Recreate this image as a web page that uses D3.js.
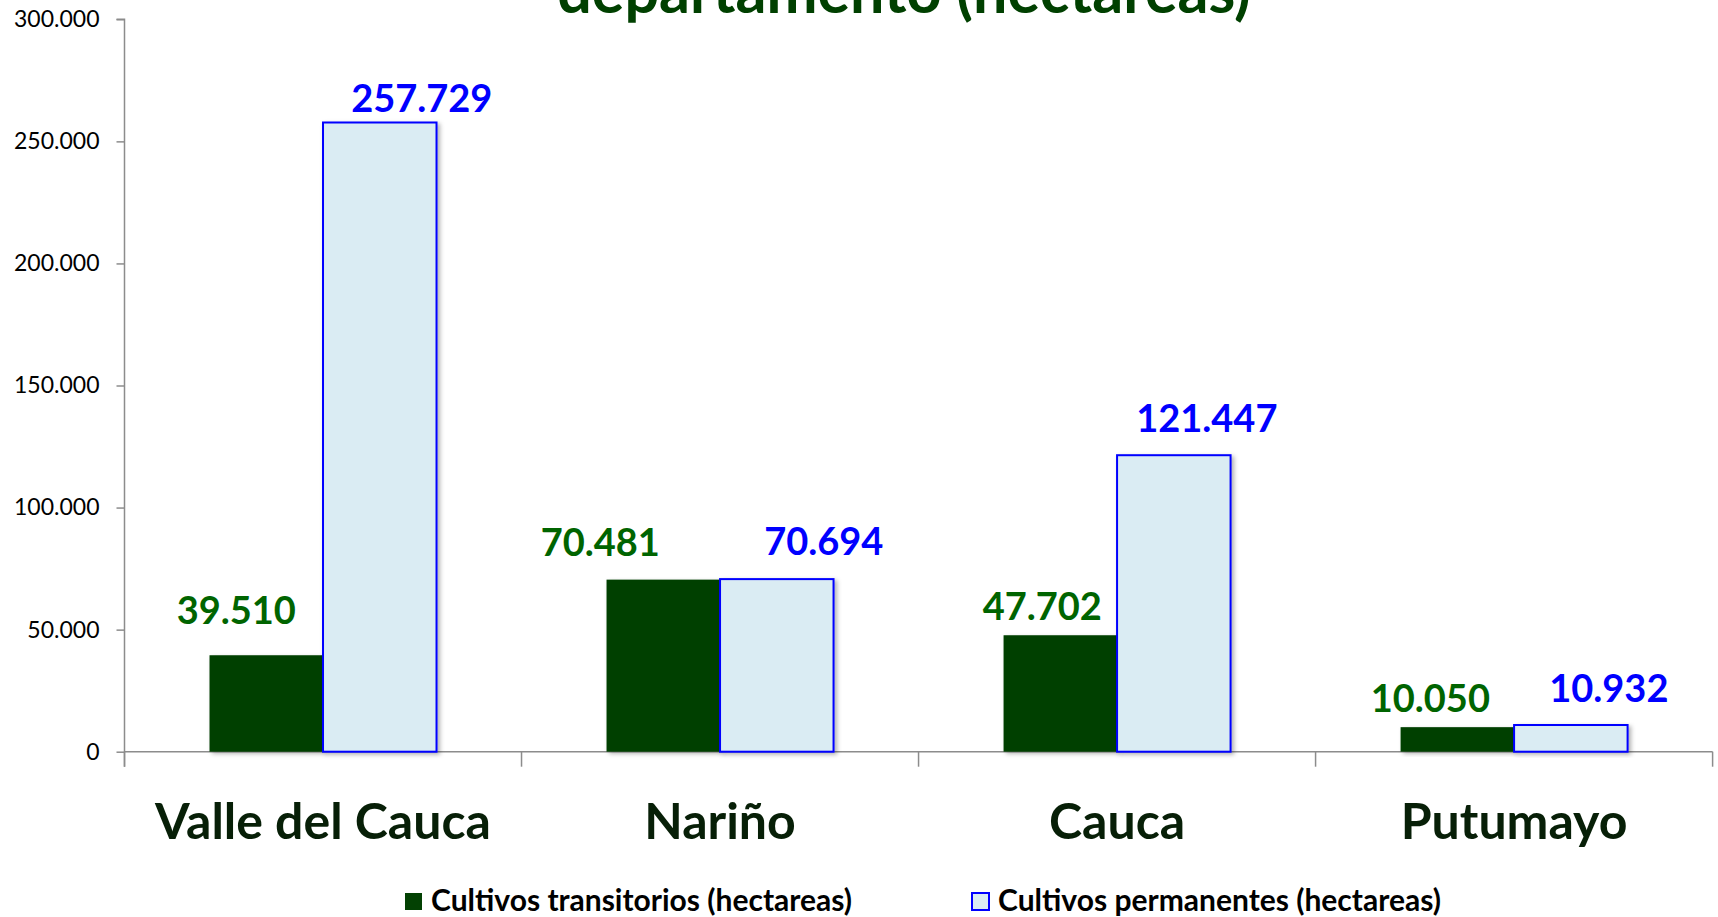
<!DOCTYPE html>
<html>
<head>
<meta charset="utf-8">
<script src="https://cdn.jsdelivr.net/npm/d3@7/dist/d3.min.js"></script>
<style>
  html, body { margin: 0; padding: 0; background: #ffffff; overflow: hidden; }
  svg { display: block; font-family: Lato, "Open Sans", "DejaVu Sans", sans-serif; }
</style>
</head>
<body>
<svg id="chart" width="1718" height="917"></svg>
<script>
// ---- data ----
const categories = ["Valle del Cauca", "Nariño", "Cauca", "Putumayo"];
const transitorios = [39510, 70481, 47702, 10050];
const permanentes = [257729, 70694, 121447, 10932];
const seriesNames = ["Cultivos transitorios (hectareas)", "Cultivos permanentes (hectareas)"];
const yTickValues = [0, 50000, 100000, 150000, 200000, 250000, 300000];
const titleText = "departamento (hectareas)";

// manual label placement (as in the original), relative to bar top-center
const labelDx = [[-30, -63, -18, -27], [42, 47, 33, 38]];
const labelDy = [[-31, -24, -15, -15], [-10, -24, -23, -23]];

// ---- styles ----
const greenFill = "#034103";
const blueFill = "#DAECF3";
const blueStroke = "#0000FF";
const greenLabel = "#006400";
const blueLabel = "#0000FF";
const axisColor = "#8c8c8c";

const svg = d3.select("#chart");
const loc = d3.formatLocale({ decimal: ",", thousands: ".", grouping: [3], currency: ["$", ""] });
const fmt = loc.format(",d");

const defs = svg.append("defs");
const f = defs.append("filter").attr("id", "shadow").attr("x", "-10%").attr("y", "-10%").attr("width", "130%").attr("height", "130%");
f.append("feDropShadow").attr("dx", 2.5).attr("dy", 2).attr("stdDeviation", 2).attr("flood-color", "#000").attr("flood-opacity", 0.3);

const plotLeft = 124.5, plotRight = 1712.6, plotTop = 19.3, plotBottom = 751.7;

const y = d3.scaleLinear().domain([0, 300000]).range([plotBottom, plotTop]);
const x = d3.scaleBand().domain(categories).range([plotLeft, plotRight]).padding(0);
const xi = d3.scaleBand().domain([0, 1]).range([0, x.bandwidth()]).paddingInner(0).paddingOuter(0.749);

const series = [transitorios, permanentes];

// title (top line is cut off in the original)
svg.append("text")
  .attr("x", 904).attr("y", 13)
  .attr("text-anchor", "middle")
  .attr("font-weight", "bold").attr("font-size", 61)
  .attr("fill", "#004000")
  .text(titleText);

// y axis
const yAxis = d3.axisLeft(y).tickValues(yTickValues).tickFormat(fmt).tickSize(8).tickSizeOuter(8).tickPadding(17);
const gy = svg.append("g").attr("transform", `translate(${plotLeft},0)`).call(yAxis);
gy.selectAll("path, line").attr("stroke", axisColor).attr("stroke-width", 1.5);
gy.select(".domain").attr("d", `M-8,${plotTop}H0V${plotBottom + 15}`);
gy.selectAll("text").attr("font-size", 23).attr("fill", "#000").attr("font-family", "Lato, sans-serif");

// x axis line + boundary ticks
const gx = svg.append("g");
gx.append("line").attr("x1", plotLeft).attr("x2", plotRight).attr("y1", plotBottom).attr("y2", plotBottom)
  .attr("stroke", axisColor).attr("stroke-width", 1.5);
const boundaries = categories.map(c => x(c)).concat([x(categories[categories.length - 1]) + x.bandwidth()]);
gx.selectAll("line.tk").data(boundaries).join("line").attr("class", "tk")
  .attr("x1", d => d).attr("x2", d => d).attr("y1", plotBottom).attr("y2", plotBottom + 15)
  .attr("stroke", axisColor).attr("stroke-width", 1.5);

// category labels
svg.append("g").selectAll("text").data(categories).join("text")
  .attr("x", d => x(d) + x.bandwidth() / 2).attr("y", 839)
  .attr("text-anchor", "middle").attr("font-weight", "bold").attr("font-size", 50)
  .attr("fill", "#071f07").text(d => d);

// bars
series.forEach((vals, si) => {
  const g = svg.append("g");
  g.selectAll("rect").data(vals).join("rect")
    .attr("x", (d, i) => x(categories[i]) + xi(si))
    .attr("y", d => y(d))
    .attr("width", xi.bandwidth())
    .attr("height", d => y(0) - y(d))
    .attr("fill", si === 0 ? greenFill : blueFill)
    .attr("stroke", si === 0 ? "none" : blueStroke)
    .attr("stroke-width", si === 0 ? 0 : 2)
    .attr("filter", "url(#shadow)");
});

// value labels
series.forEach((vals, si) => {
  svg.append("g").selectAll("text").data(vals).join("text")
    .attr("x", (d, i) => x(categories[i]) + xi(si) + xi.bandwidth() / 2 + labelDx[si][i])
    .attr("y", (d, i) => y(d) + labelDy[si][i])
    .attr("text-anchor", "middle").attr("font-weight", "bold").attr("font-size", 38)
    .attr("fill", si === 0 ? greenLabel : blueLabel)
    .text(d => fmt(d));
});

// legend
const legendX = [405, 972];
const lg = svg.append("g");
seriesNames.forEach((name, si) => {
  lg.append("rect").attr("x", legendX[si]).attr("y", 893).attr("width", 17).attr("height", 17)
    .attr("fill", si === 0 ? greenFill : blueFill)
    .attr("stroke", si === 0 ? "none" : blueStroke).attr("stroke-width", 2);
  lg.append("text").attr("x", legendX[si] + 26).attr("y", 911)
    .attr("font-weight", "bold").attr("font-size", 30).attr("fill", "#000").text(name);
});
</script>
</body>
</html>
